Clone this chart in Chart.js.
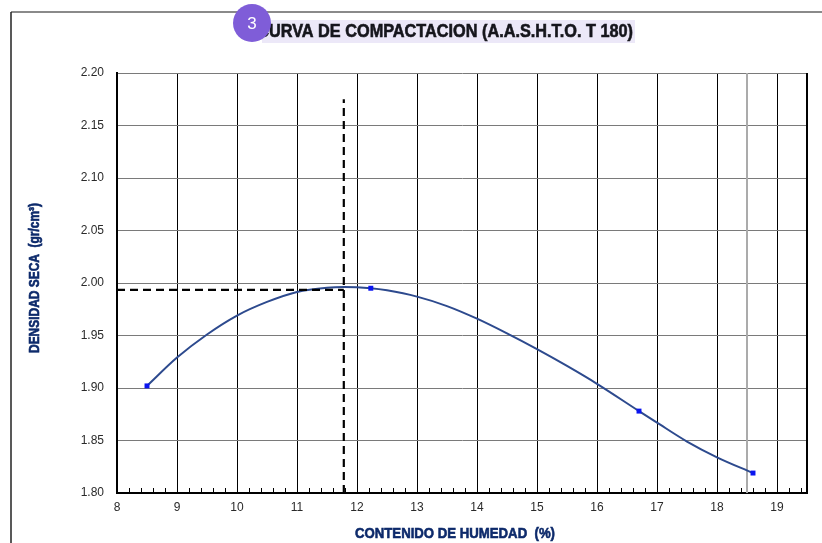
<!DOCTYPE html>
<html>
<head>
<meta charset="utf-8">
<style>
  html, body { margin: 0; padding: 0; background: #fff; }
  #wrap { width: 822px; height: 543px; }
</style>
<script src="https://cdn.jsdelivr.net/npm/chart.js@4"></script>
</head>
<body>
<div id="wrap"><canvas id="chart" width="822" height="543"></canvas></div>
<script>
// lab points (moisture %, dry density)
const humedad = [8.5, 12.23, 16.7, 18.6];
const densidad = [1.902, 1.995, 1.878, 1.819];

// curve
const curvaX = [8.5, 9, 9.5, 10, 10.5, 11, 11.5, 11.78, 12.23, 12.5, 13, 13.5, 14, 14.5, 15, 15.5, 16, 16.7, 17, 17.5, 18, 18.6];
const curvaY = [1.902, 1.929, 1.951, 1.969, 1.982, 1.9915, 1.9955, 1.9962, 1.995, 1.993, 1.987, 1.978, 1.966, 1.952, 1.937, 1.921, 1.904, 1.878, 1.867, 1.849, 1.834, 1.819];

// optimum moisture / max density guide lines
const humedadOptima = 11.78;
const densidadMax = 1.9935;
const guiaTope = 2.175;

const lineaGris = 18.5;

const xTicks = [8, 9, 10, 11, 12, 13, 14, 15, 16, 17, 18, 19];
const yTicks = [1.80, 1.85, 1.90, 1.95, 2.00, 2.05, 2.10, 2.15, 2.20];

const tituloTexto = "CURVA DE COMPACTACION (A.A.S.H.T.O. T 180)";
const tituloX = "CONTENIDO DE HUMEDAD  (%)";
const tituloY = "DENSIDAD SECA  (gr/cm³)";

const SANS = "'Liberation Sans', Arial, sans-serif";
const NAVY = "#0d2a6b";

const toXY = (xs, ys) => xs.map((x, i) => ({ x: x, y: ys[i] }));

// draws bold text squeezed to a given width (no narrow font installed)
function narrowText(c, text, size, color, width, cx, cy, rot) {
  c.save();
  c.font = "bold " + size + "px " + SANS;
  c.textAlign = "center";
  c.textBaseline = "middle";
  const sx = width / c.measureText(text).width;
  c.translate(cx, cy);
  if (rot) c.rotate(rot);
  c.scale(sx, 1);
  c.fillStyle = color;
  c.strokeStyle = color;
  c.lineWidth = 0.6;
  c.fillText(text, 0, 0);
  c.strokeText(text, 0, 0);
  c.restore();
}

// white background, outer frame, plot box, minor ticks, axis titles
const frame = {
  id: "frame",
  beforeDraw(chart) {
    const c = chart.ctx;
    c.save();
    c.fillStyle = "#fff";
    c.fillRect(0, 0, chart.width, chart.height);
    c.strokeStyle = "#8a8a8a";
    c.lineWidth = 2;
    c.beginPath(); c.moveTo(11, 12); c.lineTo(chart.width, 12); c.stroke();
    c.strokeStyle = "#222";
    c.lineWidth = 1.5;
    c.beginPath(); c.moveTo(11, 12); c.lineTo(11, chart.height); c.stroke();
    c.restore();
  },
  afterDraw(chart) {
    const c = chart.ctx;
    const a = chart.chartArea;
    const xs = chart.scales.x;
    c.save();
    c.strokeStyle = "#000";
    c.lineWidth = 2;
    c.beginPath(); c.moveTo(a.right, a.top); c.lineTo(a.right, a.bottom); c.stroke();
    // minor ticks every 0.2
    c.lineWidth = 1;
    for (let k = 0; k < 58; k++) {
      const v = 8 + k * 0.2;
      if (Math.abs(v - Math.round(v)) < 1e-6) continue;
      const px = Math.round(xs.getPixelForValue(v)) + 0.5;
      c.beginPath(); c.moveTo(px, a.bottom); c.lineTo(px, a.bottom - 5); c.stroke();
    }
    c.restore();
    narrowText(c, tituloX, 15, NAVY, 200, 455, 534, 0);
    narrowText(c, tituloY, 14, NAVY, 150, 35, 278, -Math.PI / 2);
  }
};

// title with highlight and numbered badge
const titulo = {
  id: "titulo",
  afterDraw(chart) {
    const c = chart.ctx;
    c.save();
    c.fillStyle = "#ece8f8";
    c.fillRect(262, 20, 373, 23);
    c.font = "bold 18px " + SANS;
    c.textBaseline = "middle";
    const rest = tituloTexto.slice(1);
    const sx = 364 / c.measureText(rest).width;
    c.translate(633, 32);
    c.scale(sx, 1);
    c.textAlign = "right";
    c.fillStyle = "#16161c";
    c.strokeStyle = "#16161c";
    c.lineWidth = 0.6;
    c.fillText(tituloTexto, 0, 0);
    c.strokeText(tituloTexto, 0, 0);
    c.restore();

    c.save();
    c.fillStyle = "#7f5dd8";
    c.beginPath(); c.arc(252, 23, 19, 0, Math.PI * 2); c.fill();
    c.fillStyle = "#fff";
    c.font = "17px " + SANS;
    c.textAlign = "center";
    c.textBaseline = "middle";
    c.fillText("3", 252, 24);
    c.restore();
  }
};

new Chart(document.getElementById("chart"), {
  type: "scatter",
  data: {
    datasets: [
      {
        label: "Puntos",
        data: toXY(humedad, densidad),
        showLine: false,
        pointStyle: "rect",
        pointRadius: 3.5,
        pointBackgroundColor: "#0a14f0",
        pointBorderColor: "#0a14f0",
        pointBorderWidth: 0,
        order: 0,
      },
      {
        label: "Humedad optima",
        data: [{ x: humedadOptima, y: 1.80 }, { x: humedadOptima, y: guiaTope }],
        showLine: true,
        borderColor: "#000",
        borderWidth: 2.2,
        borderDash: [8, 5],
        pointRadius: 0,
        order: 1,
      },
      {
        label: "Densidad maxima",
        data: [{ x: 8, y: densidadMax }, { x: humedadOptima, y: densidadMax }],
        showLine: true,
        borderColor: "#000",
        borderWidth: 2.2,
        borderDash: [8, 5],
        pointRadius: 0,
        order: 1,
      },
      {
        label: "Curva",
        data: toXY(curvaX, curvaY),
        showLine: true,
        borderColor: "#2d4a8e",
        borderWidth: 2,
        pointRadius: 0,
        cubicInterpolationMode: "monotone",
        order: 2,
      },
      {
        label: "Gris",
        data: [{ x: lineaGris, y: 1.80 }, { x: lineaGris, y: 2.20 }],
        showLine: true,
        borderColor: "#ababab",
        borderWidth: 2,
        pointRadius: 0,
        order: 3,
      },
    ],
  },
  options: {
    responsive: false,
    animation: false,
    layout: { padding: { left: 0, top: 73, right: 15, bottom: 0 } },
    plugins: {
      legend: { display: false },
      tooltip: { enabled: false },
    },
    scales: {
      x: {
        type: "linear",
        min: 8,
        max: 19.5,
        afterBuildTicks: (s) => { s.ticks = xTicks.map((v) => ({ value: v })); },
        afterFit: (s) => { s.height = 50; },
        ticks: {
          autoSkip: false,
          padding: 7,
          color: "#2a2a2a",
          font: { family: SANS, size: 12 },
          callback: (v) => String(v),
        },
        grid: { color: "#000", lineWidth: 1, drawTicks: false },
        border: { color: "#000", width: 2 },
      },
      y: {
        min: 1.8,
        max: 2.2,
        afterBuildTicks: (s) => { s.ticks = yTicks.map((v) => ({ value: v })); },
        afterFit: (s) => { s.width = 117; },
        ticks: {
          padding: 13,
          color: "#2a2a2a",
          font: { family: SANS, size: 12 },
          callback: (v) => Number(v).toFixed(2),
        },
        grid: { color: "#7a7a7a", lineWidth: 1, drawTicks: false },
        border: { color: "#000", width: 2 },
      },
    },
  },
  plugins: [frame, titulo],
});
</script>
</body>
</html>
